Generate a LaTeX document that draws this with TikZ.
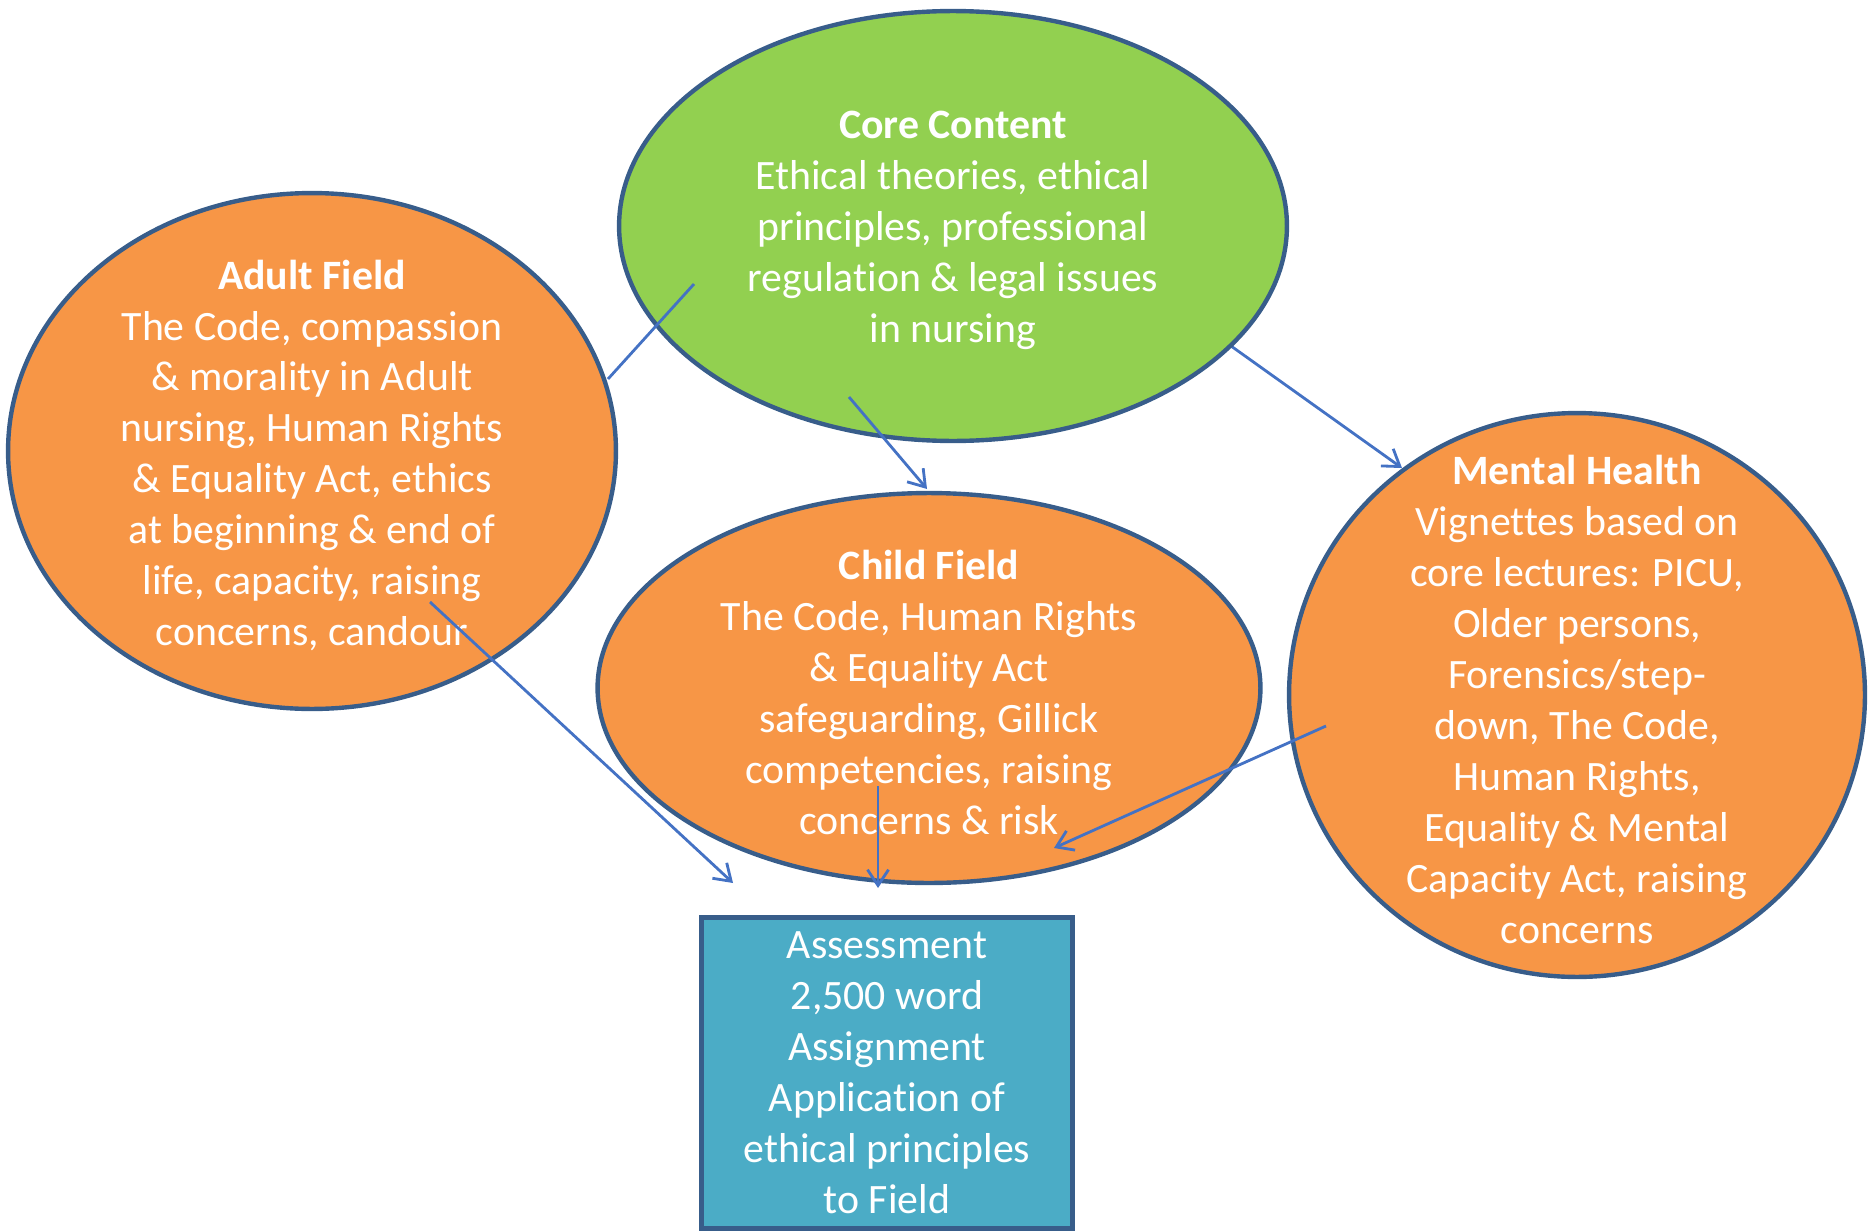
\documentclass[tikz,border=0pt]{standalone}
\usepackage{fontspec}
\setmainfont{Carlito}[Ligatures=NoCommon]
\usetikzlibrary{shapes.geometric,arrows.meta,backgrounds}

\definecolor{edgeblue}{RGB}{56,93,138}
\definecolor{arrowblue}{RGB}{68,114,196}
\definecolor{fieldorange}{RGB}{247,150,70}
\definecolor{coregreen}{RGB}{146,208,80}
\definecolor{assessteal}{RGB}{75,172,198}

\tikzset{
  blob/.style={ellipse, draw=edgeblue, line width=2.5pt, inner sep=0pt},
  blurb/.style={text=white, align=center, inner sep=0pt, font=\fontsize{23.8}{29}\selectfont},
  inset/.style={blurb, yshift=-2.5pt},
  link/.style={draw=arrowblue, line width=1.6pt},
  flow/.style={link, -{Straight Barb[length=9pt,width=12pt]}},
}

\begin{document}
\begin{tikzpicture}[x=0.02cm, y=-0.02cm]
	\useasboundingbox (0,0) rectangle (1868,1230);

	% the four topic ellipses
	\node[blob, fill=fieldorange, minimum width=12.16cm, minimum height=10.32cm,
		label={[inset]center:{\textbf{Adult Field}\\The Code, compassion\\\& morality in Adult\\nursing, Human Rights\\\& Equality Act, ethics\\at beginning \& end of\\life, capacity, raising\\concerns, candour}}]
		(adult) at (312,451) {};
	\node[blob, fill=coregreen, minimum width=13.36cm, minimum height=8.6cm,
		label={[inset]center:{\textbf{Core Content}\\Ethical theories, ethical\\principles, professional\\regulation \& legal issues\\in nursing}}]
		(core) at (953,226) {};
	\node[blob, fill=fieldorange, minimum width=13.26cm, minimum height=7.8cm,
		label={[inset]center:{\textbf{Child Field}\\The Code, Human Rights\\\& Equality Act\\safeguarding, Gillick\\competencies, raising\\concerns \& risk}}]
		(child) at (929,688) {};
	\node[blob, fill=fieldorange, minimum width=11.52cm, minimum height=11.28cm,
		label={[inset]center:{\textbf{Mental Health}\\Vignettes based on\\core lectures: PICU,\\Older persons,\\Forensics/step-\\down, The Code,\\Human Rights,\\Equality \& Mental\\Capacity Act, raising\\concerns}}]
		(mental) at (1577,695) {};

	% assessment box
	\node[rectangle, draw=edgeblue, line width=2.5pt, fill=assessteal, minimum width=7.42cm, minimum height=6.22cm,
		blurb] (assess) at (887,1073)
		{Assessment\\2,500 word\\Assignment\\Application of\\ethical principles\\to Field};

	% connector ends
	\coordinate (adultTail) at (608,379);
	\coordinate (coreHead) at (694,284);
	\coordinate (coreTail) at (849,397);
	\coordinate (childHead) at (927,489);
	\coordinate (coreRight) at (1231,346);
	\coordinate (mentalHead) at (1402,468);
	\coordinate (adultLow) at (430,602);
	\coordinate (assessLeft) at (733,883);
	\coordinate (childLow) at (878,786);
	\coordinate (assessTop) at (878,888);
	\coordinate (mentalLeft) at (1326,726);
	\coordinate (childRisk) at (1054,848);

	\begin{scope}[on background layer]
		\draw[flow] (coreRight) -- (mentalHead);
	\end{scope}
	\draw[link] (adultTail) -- (coreHead);
	\draw[flow] (coreTail) -- (childHead);
	\draw[flow] (adultLow) -- (assessLeft);
	\draw[flow] (childLow) -- (assessTop);
	\draw[flow] (mentalLeft) -- (childRisk);
\end{tikzpicture}
\end{document}
